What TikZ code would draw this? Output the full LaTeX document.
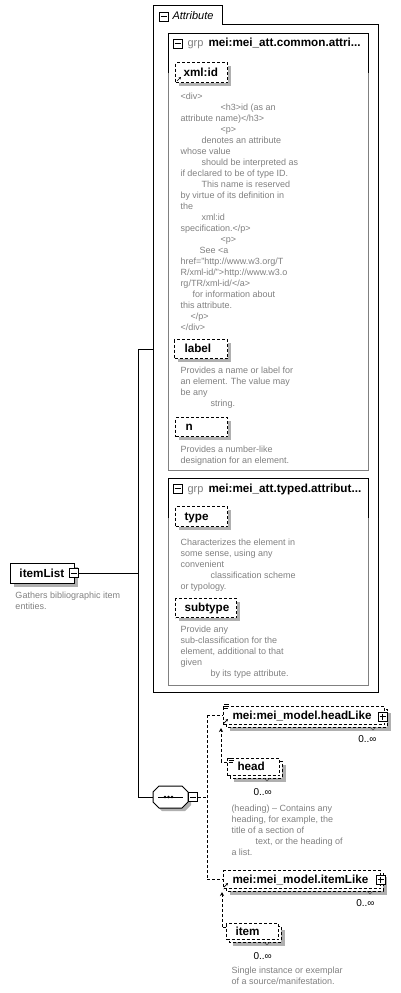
\documentclass[tikz,border=0pt]{standalone}
\usepackage{fontspec}
\setmainfont{Liberation Sans}
\usetikzlibrary{arrows.meta}
\definecolor{descgray}{RGB}{128,128,128}
\definecolor{shadegray}{RGB}{176,176,176}
\definecolor{framegray}{RGB}{128,128,128}
\newcommand\lblfont{\fontsize{11.7}{14}\bfseries\selectfont}
\newcommand\descfont{\fontsize{9}{11}\selectfont}
\newcommand\minusmark[1]{\draw[line width=1pt] ([xshift=2pt]#1.west) -- ([xshift=-2pt]#1.east);}
\newcommand\plusmark[1]{\minusmark{#1}\draw[line width=1pt] ([yshift=-2pt]#1.north) -- ([yshift=2pt]#1.south);}
\newcommand\refmark[2]{\draw[line width=0.7pt,-{Stealth[length=2.5pt,width=2.5pt]}] (#1,#2) -- (#1+4,#2-4);}
\newcommand\listmark[2]{\draw[line width=0.6pt] (#1,#2) -- (#1+5,#2) (#1,#2+2) -- (#1+5,#2+2) (#1,#2+4) -- (#1+4,#2+4);}
\newcommand\vmark[2]{\draw[line width=0.6pt,black!70] (#1-3,#2) -- (#1,#2+3) -- (#1+3,#2);}
\begin{document}
\begin{tikzpicture}[x=1pt,y=-1pt,line width=1pt,
  desc/.style={anchor=north west, inner sep=0pt, align=left, text=descgray, font=\descfont},
  ebox/.style 2 args={draw, dash pattern=on 3pt off 2pt, fill=white, inner sep=0pt, anchor=north west, font=\lblfont, text height=9pt, text depth=1.5pt, align=left, text width=#1, minimum height=#2},
  icon/.style={draw, solid, fill=white, minimum size=9pt, inner sep=0pt},
  dashcon/.style={dash pattern=on 3pt off 2pt},
  txt/.style={anchor=west, inner sep=0pt, text height=8.5pt, text depth=2pt},
  occ/.style={inner sep=0pt, font=\fontsize{10}{12}\selectfont, text height=7.5pt, text depth=0pt},
]
\useasboundingbox (0,0) rectangle (400,993);

% ---------- connector points ----------
\coordinate (j0) at (138,573);
\coordinate (attin) at (153,349);
\coordinate (j1) at (138,349);
\coordinate (j2) at (138,797);
\coordinate (vm) at (207,797);
\coordinate (v1) at (207,715);
\coordinate (v2) at (207,879);
\coordinate (ha) at (221,762);
\coordinate (hatip) at (221,728);
\coordinate (ia) at (222,927);
\coordinate (iatip) at (222,892);

% ---------- Attribute outer box ----------
\draw (153,5) -- (222,5) -- (222,24) -- (378,24) -- (378,692) -- (153,692) -- cycle;
\node[icon] (atticon) at (163.5,16.5) {};
\minusmark{atticon}
\node[txt, font=\fontsize{11}{13}\itshape\selectfont] (atttitle) at (172,16) {Attribute};

% ---------- group 1 ----------
\draw[framegray] (168,33) rectangle (368,470);
\draw (168,73) -- (168,33) -- (368,33) -- (368,73);
\node[icon] (g1icon) at (177.5,43.5) {};
\minusmark{g1icon}
\node[txt, text=descgray, font=\fontsize{11}{13}\selectfont] (g1grp) at (187,43) {grp};
\node[txt, font=\lblfont] (g1title) at (208,43) {mei:mei\_att.common.attri...};

\fill[shadegray] (179,66) rectangle (231,86);
\node[ebox={52pt}{20pt}] (xmlid) at (175,62) {\hspace*{8pt}xml:id};
\refmark{177}{81}
\node[desc] (d1) at (180,91) {\strut<div>\\
\hspace*{40pt}<h3>id (as an\\
attribute name)</h3>\\
\hspace*{40pt}<p>\\
\hspace*{21pt}denotes an attribute\\
whose value\\
\hspace*{21pt}should be interpreted as\\
if declared to be of type ID.\\
\hspace*{21pt}This name is reserved\\
by virtue of its definition in\\
the\\
\hspace*{21pt}xml:id\\
specification.</p>\\
\hspace*{40pt}<p>\\
\hspace*{19pt}See <a\\
href="http://www.w3.org/T\\
R/xml-id/">http://www.w3.o\\
rg/TR/xml-id/</a>\\
\hspace*{12pt}for information about\\
this attribute.\\
\hspace*{10pt}</p>\\
</div>};

\fill[shadegray] (178,343) rectangle (231,362);
\node[ebox={53pt}{19pt}] (label) at (174,339) {\hspace*{10pt}label};
\node[desc] (d2) at (180,365.5) {\strut Provides a name or label for\\
an element. The value may\\
be any\\
\hspace*{30pt}string.};

\fill[shadegray] (179,421) rectangle (231,440);
\node[ebox={52pt}{19pt}] (nattr) at (175,417) {\hspace*{10pt}n};
\node[desc] (d3) at (180,444.5) {\strut Provides a number-like\\
designation for an element.};

% ---------- group 2 ----------
\draw[framegray] (168,478) rectangle (368,685);
\draw (168,518) -- (168,478) -- (368,478) -- (368,518);
\node[icon] (g2icon) at (177.5,488.5) {};
\minusmark{g2icon}
\node[txt, text=descgray, font=\fontsize{11}{13}\selectfont] (g2grp) at (187,489) {grp};
\node[txt, font=\lblfont] (g2title) at (208,489) {mei:mei\_att.typed.attribut...};

\fill[shadegray] (179,510) rectangle (231,530);
\node[ebox={52pt}{20pt}] (type) at (175,506) {\hspace*{9pt}type};
\node[desc] (d4) at (180,537.5) {\strut Characterizes the element in\\
some sense, using any\\
convenient\\
\hspace*{30pt}classification scheme\\
or typology.};

\fill[shadegray] (179,602) rectangle (240,621);
\node[ebox={61pt}{19pt}] (subtype) at (175,598) {\hspace*{9pt}subtype};
\node[desc] (d5) at (180,624.5) {\strut Provide any\\
sub-classification for the\\
element, additional to that\\
given\\
\hspace*{30pt}by its type attribute.};

% ---------- itemList ----------
\fill[shadegray] (14,567) rectangle (78,587);
\node[ebox={64pt}{20pt}, solid] (itemlist) at (10,563) {\hspace*{9pt}itemList};
\node[icon] (ilicon) at (73.5,573) {};
\minusmark{ilicon}
\node[desc] (d6) at (15,590.5) {\strut Gathers bibliographic item\\
entities.};

\draw (ilicon.east) -- (j0);
\draw (attin) -- (j1) -- (j2) -- (170,797);

% ---------- sequence ----------
\fill[shadegray] (156,795) -- (162,789) -- (185,789) -- (191,795) -- (191,805) -- (185,811) -- (162,811) -- (156,805) -- cycle;
\node[minimum width=35pt, minimum height=22pt, inner sep=0pt] (seq) at (170.5,797) {};
\draw[fill=white] (153,792) -- (159,786) -- (182,786) -- (188,792) -- (188,802) -- (182,808) -- (159,808) -- (153,802) -- cycle;
\draw (158,797) -- (183,797);
\fill (165,797) circle (1.4) (168.5,797) circle (1.4) (172,797) circle (1.4);
\node[icon] (seqicon) at (193,797) {};
\minusmark{seqicon}

\draw[dashcon] (seqicon.east) -- (vm);
\draw[dashcon] (v1) -- (v2);

% ---------- headLike ----------
\fill[shadegray] (230,713) rectangle (391,731);
\draw[dashcon, fill=white] (226,709) rectangle (387,727);
\node[ebox={161pt}{18pt}] (headlike) at (223,706) {\hspace*{9pt}mei:mei\_model.headLike};
\draw[dashcon] (v1) -- (v1 -| headlike.west);
\listmark{224}{704}
\refmark{224}{723}
\node[icon] (hlplus) at (382.5,716.5) {};
\plusmark{hlplus}
\vmark{373}{727}
\node[occ, anchor=east] (hlocc) at (377,739) {0..∞};

% ---------- head ----------
\fill[shadegray] (234,765) rectangle (286,782);
\draw[dashcon, fill=white] (230,761) rectangle (282,778);
\node[ebox={52pt}{17pt}] (head) at (227,758) {\hspace*{10pt}head};
\listmark{229}{758}
\vmark{267}{778}
\node[occ, anchor=west] (headocc) at (253,792) {0..∞};
\draw[dashcon] (head.west |- ha) -- (ha);
\draw[dashcon, -{Stealth[length=4pt,width=4pt]}] (ha) -- (hatip);
\node[desc] (d7) at (231,803.5) {\strut (heading) – Contains any\\
heading, for example, the\\
title of a section of\\
\hspace*{24pt}text, or the heading of\\
a list.};

% ---------- itemLike ----------
\fill[shadegray] (230,877) rectangle (387,895);
\draw[dashcon, fill=white] (226,873) rectangle (383,891);
\node[ebox={157pt}{18pt}] (itemlike) at (223,870) {\hspace*{9pt}mei:mei\_model.itemLike};
\draw[dashcon] (v2) -- (v2 -| itemlike.west);
\refmark{224}{887}
\node[icon] (ilkplus) at (380.5,879.5) {};
\plusmark{ilkplus}
\vmark{370}{891}
\node[occ, anchor=east] (ilkocc) at (375,903) {0..∞};

% ---------- item ----------
\fill[shadegray] (233,930) rectangle (285,946);
\draw[dashcon, fill=white] (229,926) rectangle (281,942);
\node[ebox={52pt}{16pt}] (item) at (226,923) {\hspace*{9pt}item};
\vmark{267}{942}
\node[occ, anchor=west] (itemocc) at (253,956) {0..∞};
\draw[dashcon] (item.west |- ia) -- (ia);
\draw[dashcon, -{Stealth[length=4pt,width=4pt]}] (ia) -- (iatip);
\node[desc] (d8) at (231,965.5) {\strut Single instance or exemplar\\
of a source/manifestation.};
\end{tikzpicture}
\end{document}
